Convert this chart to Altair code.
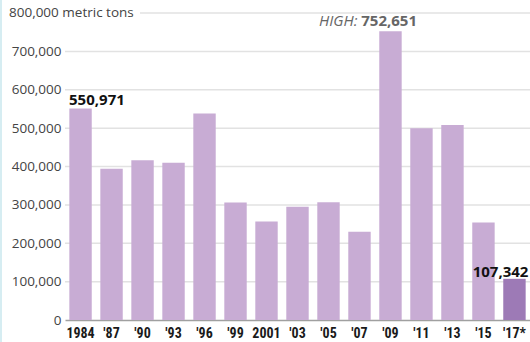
import altair as alt
import pandas as pd

years = ["1984", "'87", "'90", "'93", "'96", "'99", "2001", "'03", "'05", "'07",
         "'09", "'11", "'13", "'15", "'17*"]
values = [550971, 394000, 416000, 410000, 538000, 306000, 257000, 295000, 307000,
          230000, 752651, 500000, 508000, 254000, 107342]
highlight = [False] * 14 + [True]

grid_values = [0, 100000, 200000, 300000, 400000, 500000, 600000, 700000]
top_value = 800000
top_label = "800,000 metric tons"

df = pd.DataFrame({"year": years, "value": values, "hl": highlight})
grid_df = pd.DataFrame({"v": grid_values[1:]})
top_df = pd.DataFrame({"v": [top_value], "t": [top_label]})

W, H = 465, 307
LIGHT = "#c8acd4"
DARK = "#9d7ab6"

yaxis = alt.Axis(title=None, values=grid_values, format=",.0f", grid=False,
                 ticks=False, domain=False, labelFont="Open Sans",
                 labelFontSize=13.5, labelColor="#444", labelPadding=4)
yscale = alt.Scale(domain=[0, 800000])
xaxis = alt.Axis(title=None, labelAngle=0, ticks=False, domainColor="#a0a0a0",
                 domainWidth=1.5,
                 labelFont="Liberation Sans Narrow, Roboto Condensed, Roboto, sans-serif",
                 labelFontWeight="bold", labelFontSize=14, labelColor="#1a1a1a",
                 labelPadding=6)
xscale = alt.Scale(paddingInner=0.277, paddingOuter=0.14)

def Y(field):
    return alt.Y(field, scale=yscale, axis=yaxis)

def X(field):
    return alt.X(field, sort=years, scale=xscale, axis=xaxis)

grid = alt.Chart(grid_df).mark_rule(color="#e2e2e2", strokeWidth=1.5).encode(
    y=Y("v:Q"), x=alt.value(0), x2=alt.value(W))
topgrid = alt.Chart(top_df).mark_rule(color="#e2e2e2", strokeWidth=1.5).encode(
    y=Y("v:Q"), x=alt.value(75), x2=alt.value(W))
toptext = alt.Chart(top_df).mark_text(align="left", baseline="middle", font="Open Sans",
                                      fontSize=13.5, color="#444").encode(
    y=Y("v:Q"), x=alt.value(-56), text="t:N")

bars = alt.Chart(df).mark_bar().encode(
    x=X("year:N"),
    y=Y("value:Q"),
    color=alt.condition("datum.hl", alt.value(DARK), alt.value(LIGHT)),
)

def ann(idx, text, **kw):
    d = pd.DataFrame({"year": [years[idx]], "value": [values[idx]], "t": [text]})
    return alt.Chart(d).mark_text(baseline="alphabetic", font="Open Sans", **kw).encode(
        x=X("year:N"), y=Y("value:Q"), text="t:N")

a1 = ann(0, "550,971", align="left", dx=-11.5, dy=-4, fontSize=15, fontWeight="bold", color="#111")
a2 = ann(10, "752,651", align="right", dx=26.5, dy=-5, fontSize=15, fontWeight="bold", color="#666")
a3 = ann(10, "HIGH:", align="right", dx=-33, dy=-5, fontSize=15, fontStyle="italic", color="#666")
a4 = ann(14, "107,342", align="right", dx=14, dy=-2, fontSize=15, fontWeight="bold", color="#111")

strip = alt.Chart(top_df).mark_rule(color="#d6edf2", strokeWidth=2).encode(
    x=alt.value(-64), y=alt.value(-13), y2=alt.value(H + 22))

chart = alt.layer(grid, topgrid, bars, toptext, a1, a2, a3, a4, strip).properties(
    width=W, height=H,
    autosize=alt.AutoSizeParams(type="none"),
    padding={"left": 65, "top": 13, "right": 0, "bottom": 22},
).configure_view(stroke=None)

chart.save("out.html", embed_options={"renderer": "svg", "actions": False})
